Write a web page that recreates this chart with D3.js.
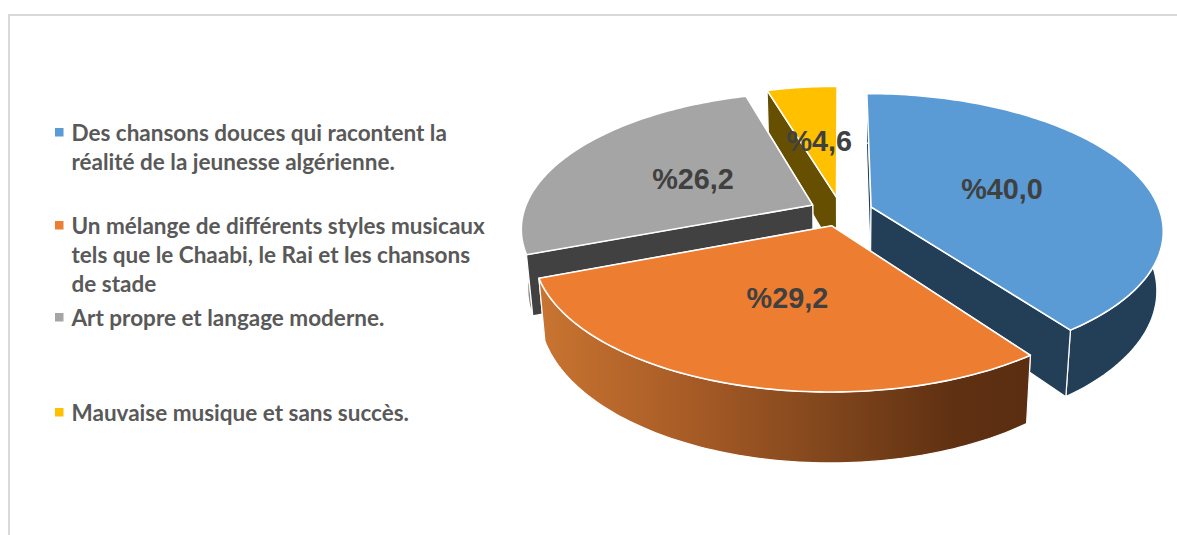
<!DOCTYPE html>
<html>
<head>
<meta charset="utf-8">
<script src="https://cdn.jsdelivr.net/npm/d3@7/dist/d3.min.js"></script>
<style>
html,body{margin:0;padding:0;background:#fff;overflow:hidden}
svg{display:block}
</style>
</head>
<body>
<svg id="chart" width="1177" height="535"></svg>
<script>
// ---- data ----
const categories = [
  ["Des chansons douces qui racontent la", "réalité de la jeunesse algérienne."],
  ["Un mélange de différents styles musicaux", "tels que le Chaabi, le Rai et les chansons", "de stade"],
  ["Art propre et langage moderne."],
  ["Mauvaise musique et sans succès."]
];
const values = [40.0, 29.2, 26.2, 4.6];
const valueLabels = ["%40,0", "%29,2", "%26,2", "%4,6"];

// ---- styles ----
const topColors  = ["#5b9bd5", "#ed7d31", "#a5a5a5", "#ffc000"];
const sideColors = ["#233f57", "#5c2e11", "#414141", "#665000"];
const wallColors = ["#233f57", "url(#orangeSide)", "#8a8a8a", "#665000"];
const drawOrder  = [3, 2, 0, 1];

// ---- layout ----
const W = 1177, H = 535;
const cx = 841, cy = 211.5, R = 289, Q = 133.5, P = 0.165;
const explode = 0.11, thick = 58, shrink = 0.98;
const legendBaselines = [141, 234, 326, 421];
const legendLine = 29;

const svg = d3.select("#chart");
const defs = svg.append("defs");
const grad = defs.append("linearGradient").attr("id", "orangeSide");
[[0, "#c97431"], [0.3, "#a85c26"], [0.6, "#7f451c"], [0.85, "#5f3012"], [1, "#5c2e11"]].forEach(s =>
  grad.append("stop").attr("offset", s[0]).attr("stop-color", s[1]));

// frame
svg.append("path").attr("d", `M9,${H}V15H${W}`).attr("fill", "none")
  .attr("stroke", "#d9d9d9").attr("stroke-width", 2);

// ---- pie geometry via d3.pie, perspective projection of the unit disc ----
const arcs = d3.pie().sort(null).startAngle(0).endAngle(2 * Math.PI)(values);

function project(X, Y, low) {
  const s = 1 / (1 - P * Y);
  const k = low ? shrink : 1;
  return [cx + R * X * s * k, cy + Q * Y * s + (low ? thick * s : 0)];
}
function polar(a, d, r) {
  const mid = (d.startAngle + d.endAngle) / 2;
  return [Math.sin(a) * r + Math.sin(mid) * explode, -Math.cos(a) * r - Math.cos(mid) * explode];
}
const line = d3.line();
function ring(d, a0, a1, low) {
  const n = Math.max(2, Math.ceil((a1 - a0) / 0.02));
  return d3.range(n + 1).map(i => {
    const p = polar(a0 + (a1 - a0) * i / n, d, 1);
    return project(p[0], p[1], low);
  });
}
const apex = (d, low) => { const p = polar(0, d, 0); return project(p[0], p[1], low); };

const g = svg.append("g");
drawOrder.forEach(i => {
  const d = arcs[i];
  const up = ring(d, d.startAngle, d.endAngle, false);
  const lo = ring(d, d.startAngle, d.endAngle, true).reverse();
  const n = 60;
  const wallDepth = d3.mean(d3.range(n + 1), k => polar(d.startAngle + (d.endAngle - d.startAngle) * k / n, d, 1)[1]);
  // side pieces, painted back to front
  const pieces = [d.startAngle, d.endAngle].map(a => ({
    depth: polar(a, d, 1)[1],
    path: line([apex(d, false), ring(d, a, a, false)[0], ring(d, a, a, true)[0], apex(d, true)]) + "Z",
    fill: sideColors[i]
  }));
  pieces.push({ depth: wallDepth, path: line(up.concat(lo)) + "Z", fill: wallColors[i] });
  pieces.sort((a, b) => a.depth - b.depth).forEach(p => {
    g.append("path").attr("d", p.path).attr("fill", p.fill)
      .attr("stroke", "#fff").attr("stroke-width", 1.2).attr("stroke-linejoin", "round");
  });
  // top face
  g.append("path").attr("d", line([apex(d, false)].concat(up)) + "Z")
    .attr("fill", topColors[i]).attr("stroke", "#fff").attr("stroke-width", 1.6)
    .attr("stroke-linejoin", "round");
});

// value labels
arcs.forEach((d, i) => {
  const mid = (d.startAngle + d.endAngle) / 2;
  const p = polar(mid, d, 0.49), q = project(p[0], p[1], false);
  svg.append("text").attr("x", q[0] + 1).attr("y", q[1] + 1.5).attr("dy", "0.35em")
    .attr("text-anchor", "middle")
    .attr("font-family", "'Liberation Sans', Arial, sans-serif")
    .attr("font-weight", 700).attr("font-size", 28.8).attr("fill", "#404040")
    .text(valueLabels[i]);
});

// legend
categories.forEach((lines, i) => {
  const y0 = legendBaselines[i];
  svg.append("rect").attr("x", 55).attr("y", y0 - 13).attr("width", 8.5).attr("height", 8.5)
    .attr("fill", topColors[i]);
  lines.forEach((t, j) => {
    svg.append("text").attr("x", 71.5).attr("y", y0 + j * legendLine)
      .attr("font-family", "Lato, 'Noto Sans', sans-serif")
      .attr("font-weight", 700).attr("font-size", 22.5).attr("fill", "#595959")
      .text(t);
  });
});
</script>
</body>
</html>
